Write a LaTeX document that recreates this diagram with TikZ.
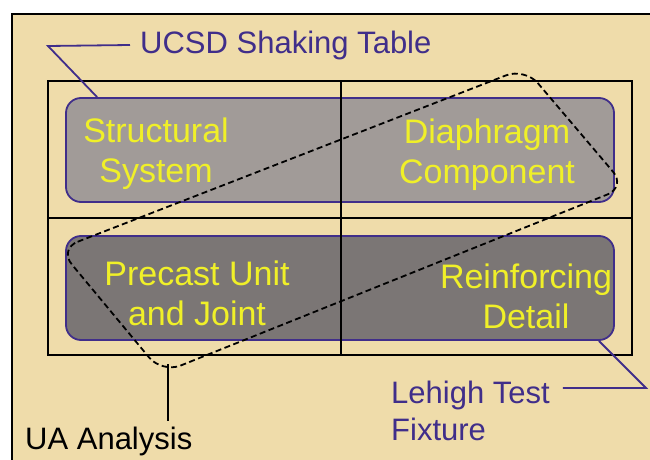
\documentclass[tikz,border=0pt]{standalone}
\usepackage{fontspec}
\setmainfont{Liberation Sans}
\usetikzlibrary{calc}

\definecolor{panelTan}{RGB}{239,220,170}
\definecolor{lightGray}{RGB}{161,155,152}
\definecolor{darkGray}{RGB}{123,118,117}
\definecolor{leaderPurple}{RGB}{64,46,138}
\definecolor{textYellow}{RGB}{240,240,40}

\begin{document}
\begin{tikzpicture}[x=1pt,y=-1pt,
    levelbox/.style={rectangle,rounded corners=15pt,draw=leaderPurple,line width=1.8pt,
    minimum width=548pt,minimum height=104pt,inner sep=0pt},
    boxtext/.style={text=textYellow,align=center,inner sep=0pt,
    font=\fontsize{34}{40}\selectfont},
    labeltext/.style={inner sep=0pt,font=\fontsize{31}{37}\selectfont},
    leader/.style={draw=leaderPurple,line width=1.8pt}]

    \useasboundingbox (0,0) rectangle (650,460);
    \draw[fill=panelTan,line width=2.8pt] (12,14) rectangle (660,470);

    \node[levelbox,fill=lightGray] at (340,150) (upper) {};
    \node[levelbox,fill=darkGray] at (340,288) (lower) {};

    \draw[line width=1.5pt] (48,81) rectangle (632,355);
    \draw[line width=1.5pt] (341,81) -- (341,355);
    \draw[line width=1.5pt] (48,218) -- (632,218);

    \node[boxtext] at (156,154) (structural) {Structural\\System};
    \node[boxtext] at (487,155) (diaphragm) {Diaphragm\\Component};
    \node[boxtext] at (197,293) (precast) {Precast Unit\\and Joint};
    \node[boxtext] at (526,296) (reinforcing) {Reinforcing\\Detail};

    \draw[line width=1.8pt,dash pattern=on 6pt off 3.5pt,rounded corners=20pt]
        (59,249) -- (525,68) -- (626,187) -- (162,373) -- cycle;

    \node[labeltext,text=leaderPurple,anchor=west] at (140,45) (ucsd) {UCSD Shaking Table};
    \node[labeltext,text=leaderPurple,anchor=west,align=left] at (391,411) (lehigh) {Lehigh Test\\Fixture};
    \node[labeltext,anchor=base west] at (25,449) (ua) {UA Analysis};

    \coordinate (ucsdKnee) at (48,46);
    \coordinate (lehighKnee) at (646,388);
    \coordinate (uaTip) at (168,364);

    \draw[leader] ([xshift=-10pt]ucsd.west) -- (ucsdKnee) -- ([xshift=32pt]upper.north west);
    \draw[leader] ([xshift=-16pt]lower.south east) -- (lehighKnee) -- ($(lehighKnee -| lehigh.east)+(13,0)$);
    \draw[line width=1.6pt] (uaTip) -- ++(0,57);
\end{tikzpicture}
\end{document}
